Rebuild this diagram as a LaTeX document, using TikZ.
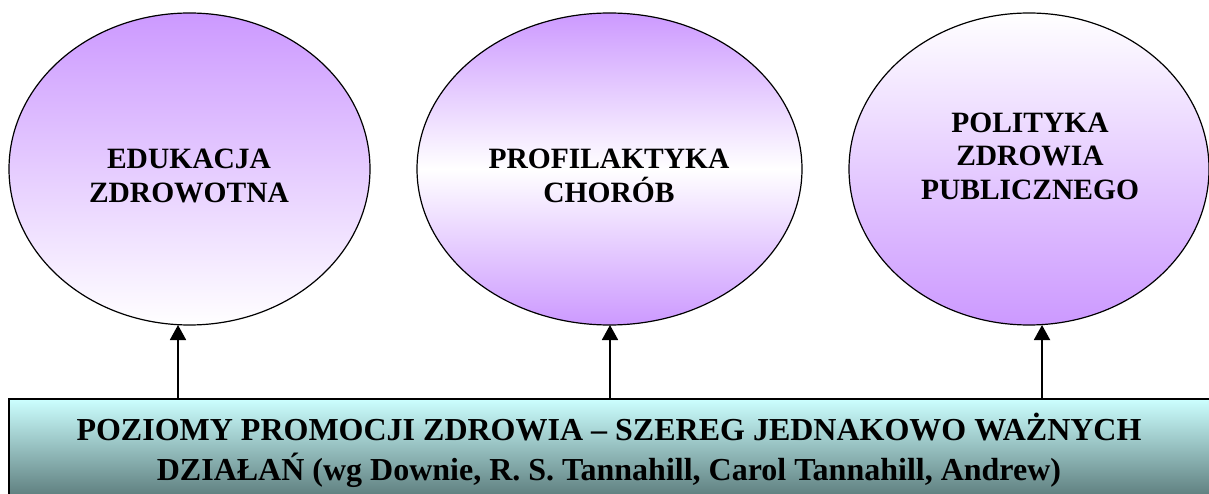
\documentclass[tikz,border=0pt]{standalone}
\usepackage{fontspec}
\setmainfont{Liberation Serif}
\usetikzlibrary{arrows.meta,shapes.geometric}
\definecolor{lav}{HTML}{CC99FF}
\definecolor{cyanlt}{HTML}{CCFFFF}
\definecolor{tealdk}{HTML}{5F7F7F}
\tikzset{
  oval/.style={draw=black,line width=1.2pt,inner sep=0pt},
  lbl/.style={align=center,font=\bfseries\fontsize{29.5}{33.5}\selectfont},
  conn/.style={line width=1.8pt,-{Triangle[width=16pt,length=15pt]}},
}
\begin{document}
\begin{tikzpicture}[x=1pt,y=-1pt]
\useasboundingbox (0,0) rectangle (1209,494);
% ellipses
\path[oval,top color=lav,bottom color=white] (189.5,169) ellipse [x radius=180.5,y radius=156];
\path[oval,top color=lav,bottom color=lav,middle color=white] (609.5,169) ellipse [x radius=192.5,y radius=156];
\path[oval,top color=white,bottom color=lav] (1029,169) ellipse [x radius=180,y radius=156];
\node[lbl] (e1) at (189,176) {EDUKACJA\\ZDROWOTNA};
\node[lbl] (e2) at (609,176) {PROFILAKTYKA\\CHORÓB};
\node[lbl] (e3) at (1030,156) {POLITYKA\\ZDROWIA\\PUBLICZNEGO};
% box
\path[draw=black,line width=2pt,top color=cyanlt,bottom color=tealdk] (9,399) rectangle (1220,496);
\node[align=center,font=\bfseries\fontsize{32}{40}\selectfont] (box) at (609,450) {POZIOMY PROMOCJI ZDROWIA – SZEREG JEDNAKOWO WAŻNYCH\\DZIAŁAŃ (wg Downie, R. S. Tannahill, Carol Tannahill, Andrew)};
% connectors
\coordinate (s1) at (178,399); \coordinate (t1) at (178,325);
\coordinate (s2) at (610,399); \coordinate (t2) at (610,325);
\coordinate (s3) at (1042,399); \coordinate (t3) at (1042,325);
\draw[conn] (s1) -- (t1);
\draw[conn] (s2) -- (t2);
\draw[conn] (s3) -- (t3);
\end{tikzpicture}
\end{document}
